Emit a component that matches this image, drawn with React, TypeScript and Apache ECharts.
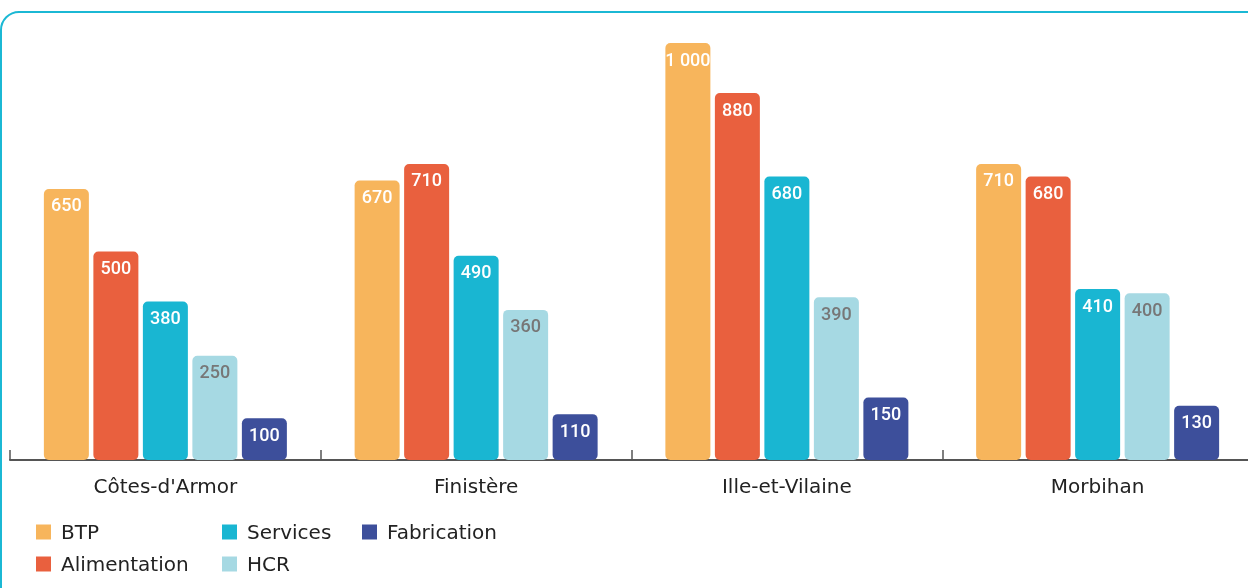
import React, { useEffect, useRef } from "react";
import * as echarts from "echarts";

const categories = ["Côtes-d'Armor", "Finistère", "Ille-et-Vilaine", "Morbihan"];
const seriesNames = ["BTP", "Alimentation", "Services", "HCR", "Fabrication"];
const btp = [650, 670, 1000, 710];
const alimentation = [500, 710, 880, 680];
const services = [380, 490, 680, 410];
const hcr = [250, 360, 390, 400];
const fabrication = [100, 110, 150, 130];
const colors = ["#f7b55c", "#e9603e", "#19b6d2", "#a6d9e3", "#3d4f9b"];
const labelColors = ["#ffffff", "#ffffff", "#ffffff", "#777777", "#ffffff"];

const fmt = (v: number) => (v >= 1000 ? String(v).replace(/\B(?=(\d{3})+(?!\d))/g, " ") : String(v));

export default function App() {
  const ref = useRef<HTMLDivElement>(null);
  useEffect(() => {
    if (!ref.current) return;
    const chart = echarts.init(ref.current, null, { renderer: "svg" });
    const values = [btp, alimentation, services, hcr, fabrication];
    const font = "Roboto, 'DejaVu Sans', sans-serif";
    const textFont = "'DejaVu Sans', sans-serif";
    chart.setOption({
      animation: false,
      textStyle: { fontFamily: font },
      graphic: [
        {
          type: "rect",
          shape: { x: 1, y: 12, width: 1300, height: 620, r: 18 },
          style: { fill: "none", stroke: "#1bb8d4", lineWidth: 2 },
          z: -1,
        },
      ],
      grid: { left: 10, width: 1243, top: 43, height: 417, containLabel: false },
      xAxis: {
        type: "category",
        data: categories,
        axisLine: { lineStyle: { color: "#555", width: 2 } },
        axisTick: { show: true, inside: true, length: 10, lineStyle: { color: "#555", width: 1.5 } },
        axisLabel: { color: "#222", fontSize: 20, margin: 16, fontFamily: textFont },
      },
      yAxis: { type: "value", min: 0, max: 1000, show: false, splitLine: { show: false } },
      legend: [
        { data: ["BTP", "Alimentation"], left: 36, top: 522 },
        { data: ["Services", "HCR"], left: 222, top: 522 },
        { data: ["Fabrication"], left: 362, top: 522 },
      ].map((l) => ({
        ...l,
        orient: "vertical",
        padding: 0,
        itemWidth: 15,
        itemHeight: 15,
        itemGap: 12,
        icon: "rect",
        textStyle: { fontSize: 20, color: "#222", fontFamily: textFont, padding: [0, 0, 0, 5] },
      })),
      series: seriesNames.map((name, i) => ({
        name,
        type: "bar",
        data: values[i],
        barWidth: 45,
        barGap: "10%",
        itemStyle: { color: colors[i], borderRadius: 5 },
        label: {
          show: true,
          position: "insideTop",
          distance: 7,
          color: labelColors[i],
          fontSize: 18,
          fontWeight: 500,
          fontFamily: font,
          formatter: (p: any) => fmt(p.value),
        },
      })),
    });
    return () => chart.dispose();
  }, []);
  return <div ref={ref} style={{ position: "fixed", left: 0, top: 0, width: 1280, height: 588 }} />;
}
